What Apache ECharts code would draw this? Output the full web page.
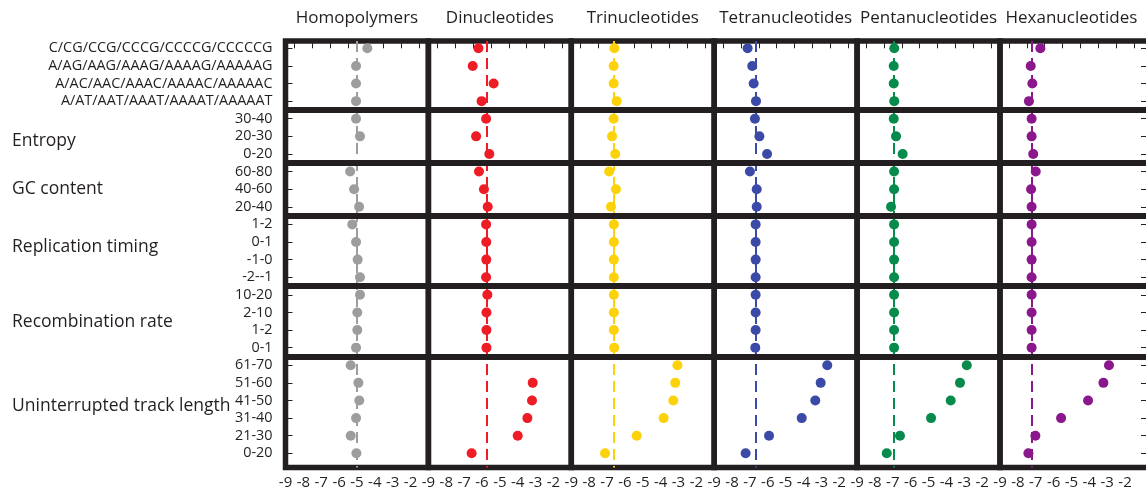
<!DOCTYPE html>
<html>
<head>
<meta charset="utf-8">
<script src="https://cdn.jsdelivr.net/npm/echarts@6/dist/echarts.min.js"></script>
<style>
  html, body { margin: 0; padding: 0; background: #ffffff; }
  #chart { width: 1146px; height: 495px; }
</style>
</head>
<body>
<div id="chart"></div>
<script>
// ---- data -------------------------------------------------------------
const classNames = ['Homopolymers', 'Dinucleotides', 'Trinucleotides',
  'Tetranucleotides', 'Pentanucleotides', 'Hexanucleotides'];

const rowLabels = [
  'C/CG/CCG/CCCG/CCCCG/CCCCCG', 'A/AG/AAG/AAAG/AAAAG/AAAAAG',
  'A/AC/AAC/AAAC/AAAAC/AAAAAC', 'A/AT/AAT/AAAT/AAAAT/AAAAAT',
  '30-40', '20-30', '0-20',
  '60-80', '40-60', '20-40',
  '1-2', '0-1', '-1-0', '-2--1',
  '10-20', '2-10', '1-2', '0-1',
  '61-70', '51-60', '41-50', '31-40', '21-30', '0-20'
];

const groupNames = ['', 'Entropy', 'GC content', 'Replication timing',
  'Recombination rate', 'Uninterrupted track length'];
const groupSizes = [4, 3, 3, 4, 4, 6];

const xTickLabels = [-9, -8, -7, -6, -5, -4, -3, -2];

// log10 values, one per row (null = no estimate)
const homopolymers = [-4.42, -5.05, -5.05, -5.05, -5.05, -4.83, null,
  -5.38, -5.16, -4.88, -5.26, -5.05, -4.96, -4.83,
  -4.83, -4.98, -4.98, -5.05, -5.35, -4.92, -4.87, -5.05, -5.35, -5.03];
const dinucleotides = [-6.20, -6.52, -5.35, -6.02, -5.77, -6.33, -5.59,
  -6.17, -5.89, -5.68, -5.77, -5.76, -5.76, -5.77,
  -5.70, -5.75, -5.75, -5.75, null, -3.16, -3.20, -3.46, -4.00, -6.58];
const trinucleotides = [-6.59, -6.63, -6.63, -6.46, -6.63, -6.72, -6.54,
  -6.88, -6.50, -6.78, -6.62, -6.62, -6.62, -6.62,
  -6.62, -6.62, -6.62, -6.60, -3.06, -3.18, -3.29, -3.83, -5.34, -7.11];
const tetranucleotides = [-7.13, -6.87, -6.79, -6.66, -6.72, -6.47, -6.04,
  -7.00, -6.62, -6.62, -6.68, -6.68, -6.68, -6.68,
  -6.68, -6.68, -6.68, -6.70, -2.67, -3.04, -3.34, -4.10, -5.93, -7.24];
const pentanucleotides = [-6.92, -6.95, -6.95, -6.92, -6.95, -6.82, -6.45,
  -6.93, -6.93, -7.10, -6.93, -6.93, -6.93, -6.93,
  -6.93, -6.93, -6.93, -6.93, -2.86, -3.24, -3.76, -4.86, -6.60, -7.34];
const hexanucleotides = [-6.74, -7.28, -7.19, -7.38, -7.23, -7.23, -7.14,
  -7.00, -7.26, -7.23, -7.23, -7.23, -7.23, -7.23,
  -7.23, -7.23, -7.23, -7.23, -2.90, -3.21, -4.07, -5.58, -7.02, -7.41];

// genome-wide average for each class (dashed line)
const classAverages = [-5.0, -5.75, -6.63, -6.70, -6.93, -7.22];

const classColors = ['#9d9d9d', '#ee1c25', '#fcd20b', '#3b4aa6', '#078b4c', '#8a178b'];

// ---- layout -----------------------------------------------------------
const classValues = [homopolymers, dinucleotides, trinucleotides,
  tetranucleotides, pentanucleotides, hexanucleotides];
const CHART_W = 1146;
const PLOT_LEFT = 285.5, PANEL_W = 142.9, PLOT_TOP = 41, PLOT_H = 426.5;
const X_MIN = -9, X_MAX = -1;
const Y_MIN = -0.415, Y_MAX = 23.806;
const FRAME_W = 5.5;
const RIGHT_OVERHANG = 6;   // last panel's right frame sits just past the page edge
const INK = '#231f20';
const FONT = 'Open Sans';
const groupLabelY = [null, 141, 189, 247, 322, 406];
const rowIdx = rowLabels.map((_, i) => i);
const lastK = classNames.length - 1;

// boundaries between row groups
const groupBreaks = [];
let acc = 0;
groupSizes.forEach((n, g) => {
  acc += n;
  if (g < groupSizes.length - 1) groupBreaks.push(acc - 0.5);
});

const grid = [], xAxis = [], yAxis = [], series = [], graphic = [];

classNames.forEach((name, k) => {
  const left = PLOT_LEFT + k * PANEL_W;
  const isLast = k === lastK;
  // the last panel runs past the page edge; its scale is stretched to keep the unit width
  const width = isLast ? CHART_W + RIGHT_OVERHANG - left : PANEL_W;
  const xMax = isLast ? X_MIN + width * (X_MAX - X_MIN) / PANEL_W : X_MAX;

  grid.push({
    left: left, top: PLOT_TOP, width: width, height: PLOT_H,
    outerBoundsMode: 'none', containLabel: false,
    show: true, borderColor: INK, borderWidth: FRAME_W,
    backgroundColor: 'transparent'
  });
  xAxis.push({
    type: 'value', gridIndex: k, min: X_MIN, max: xMax,
    axisLine: { show: false },
    splitLine: { show: false },
    axisTick: {
      show: true, inside: true, length: 7,
      lineStyle: { color: INK, width: 1 },
      customValues: xTickLabels.map(v => v + 0.5)
    },
    axisLabel: {
      customValues: xTickLabels,
      color: INK, fontFamily: FONT, fontSize: 15, margin: 8
    }
  });
  yAxis.push({
    type: 'value', gridIndex: k, inverse: true, min: Y_MIN, max: Y_MAX,
    show: k === 0,
    axisLine: { show: false },
    splitLine: { show: false },
    axisTick: {
      show: true, inside: true, length: 7,
      lineStyle: { color: INK, width: 1 },
      customValues: rowIdx
    },
    axisLabel: {
      customValues: rowIdx,
      formatter: v => rowLabels[Math.round(v)],
      color: INK, fontFamily: FONT, fontSize: 14.4, margin: 13
    }
  });

  const color = classColors[k];
  // dashed genome average
  series.push({
    type: 'scatter', xAxisIndex: k, yAxisIndex: k, data: [], z: 1,
    markLine: {
      silent: true, symbol: 'none', label: { show: false },
      lineStyle: { color: color, width: 2, type: [11, 6] },
      data: [{ xAxis: classAverages[k] }]
    }
  });
  // estimates per row
  series.push({
    type: 'scatter', name: name, xAxisIndex: k, yAxisIndex: k, z: 3,
    symbol: 'circle', symbolSize: 10,
    itemStyle: { color: color, opacity: 1 },
    data: classValues[k].map((v, i) => (v === null ? null : [v, i]))
      .filter(d => d !== null)
  });
  // thick separators between row groups
  series.push({
    type: 'scatter', xAxisIndex: k, yAxisIndex: k, data: [], z: 5,
    markLine: {
      silent: true, symbol: 'none', label: { show: false },
      lineStyle: { color: INK, width: 6, type: 'solid' },
      data: groupBreaks.map(b => ({ yAxis: b }))
    }
  });

  graphic.push({
    type: 'text', x: PLOT_LEFT + (k + 0.5) * PANEL_W, y: 18,
    style: {
      text: name, fill: INK, font: `17px "${FONT}"`,
      align: 'center', verticalAlign: 'middle'
    }
  });
});

// ticks along the right edge of the page
yAxis.push({
  type: 'value', gridIndex: lastK, position: 'right', offset: -RIGHT_OVERHANG,
  inverse: true, min: Y_MIN, max: Y_MAX,
  axisLine: { show: false }, splitLine: { show: false },
  axisTick: {
    show: true, inside: true, length: 5,
    lineStyle: { color: INK, width: 1 }, customValues: rowIdx
  },
  axisLabel: { show: false }
});

groupNames.forEach((g, i) => {
  if (!g) return;
  graphic.push({
    type: 'text', x: 12, y: groupLabelY[i],
    style: {
      text: g, fill: INK, font: `17.5px "${FONT}"`,
      align: 'left', verticalAlign: 'middle'
    }
  });
});

const chart = echarts.init(document.getElementById('chart'), null, { renderer: 'canvas' });
chart.setOption({
  animation: false,
  backgroundColor: '#ffffff',
  grid, xAxis, yAxis, series, graphic
});
</script>
</body>
</html>
